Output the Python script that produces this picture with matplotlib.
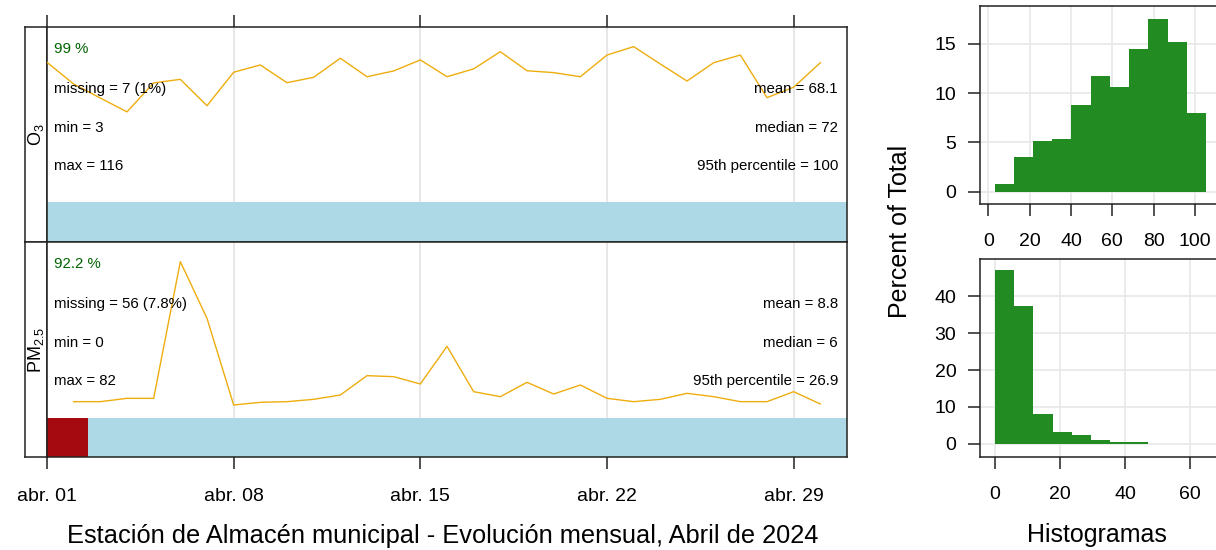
import numpy as np
import matplotlib
matplotlib.use("Agg")
import matplotlib.pyplot as plt
import matplotlib.dates as mdates

plt.rcParams['font.family'] = ['Liberation Sans', 'DejaVu Sans']
plt.rcParams['mathtext.fontset'] = 'custom'
plt.rcParams['mathtext.rm'] = 'Liberation Sans'
plt.rcParams['mathtext.it'] = 'Liberation Sans:italic'
plt.rcParams['mathtext.bf'] = 'Liberation Sans:bold'

# ---------------- data ----------------
days = np.arange('2024-04-01', '2024-05-01', dtype='datetime64[D]')
o3_daily = [74.7, 63.1, 55.6, 48.2, 63.7, 65.6, 51.5, 69.4, 73.3, 63.8,
            66.7, 76.9, 67.0, 70.1, 76.0, 67.0, 71.2, 80.4, 70.2, 69.2,
            67.0, 78.6, 83.1, 73.8, 64.7, 74.5, 78.6, 55.8, 61.4, 74.5]
pm25_daily = [np.nan, 4.9, 4.9, 5.9, 5.9, 46.9, 29.9, 3.9, 4.7, 4.9,
              5.6, 6.9, 12.7, 12.4, 10.2, 21.5, 7.9, 6.4, 10.7, 7.2,
              9.9, 5.9, 4.9, 5.6, 7.4, 6.4, 4.9, 4.9, 7.9, 4.2]

pollutants = ['O$_3$', 'PM$_{2.5}$']
pct_captured = ['99 %', '92.2 %']
missing_txt = ['missing = 7 (1%)', 'missing = 56 (7.8%)']
min_txt = ['min = 3', 'min = 0']
max_txt = ['max = 116', 'max = 82']
mean_txt = ['mean = 68.1', 'mean = 8.8']
median_txt = ['median = 72', 'median = 6']
p95_txt = ['95th percentile = 100', '95th percentile = 26.9']

# missing-data periods (start, end) per pollutant
missing_periods = [[], [(np.datetime64('2024-04-01T00:00'), np.datetime64('2024-04-02T13:00'))]]

tick_dates = np.array(['2024-04-01', '2024-04-08', '2024-04-15', '2024-04-22', '2024-04-29'],
                      dtype='datetime64[D]')
tick_labels = ['abr. 01', 'abr. 08', 'abr. 15', 'abr. 22', 'abr. 29']

o3_hist_edges = [3, 12.3, 21.6, 30.9, 40.2, 49.5, 58.8, 68.1, 77.4, 86.7, 96.0, 105.3]
o3_hist_pct = [0.75, 3.55, 5.18, 5.32, 8.8, 11.75, 10.6, 14.45, 17.53, 15.23, 7.96]
pm_hist_edges = [0, 5.9, 11.8, 17.7, 23.6, 29.5, 35.4, 41.3, 47.2]
pm_hist_pct = [47.05, 37.3, 8.15, 3.26, 2.44, 1.09, 0.54, 0.54]

title = 'Estación de Almacén municipal - Evolución mensual, Abril de 2024'

# ---------------- figure ----------------
W, H = 1216, 550
fig = plt.figure(figsize=(W / 100, H / 100), dpi=100)


def rect(x0, y0, x1, y1):
    return [x0 / W, 1 - y1 / H, (x1 - x0) / W, (y1 - y0) / H]


SPINE = '#222222'
LW = 1.1
TREND = '#EEAD0E'
DATACOL = '#ADD8E6'
MISCOL = '#A50A11'
GRID = '#E0E0E0'

panel_y = [(27, 242), (242, 457)]
ylims = [(-21.4, 93.6), (-11.7, 52.8)]
series = [o3_daily, pm25_daily]

xstart = np.datetime64('2024-04-01T00:00')
xend = np.datetime64('2024-05-01T00:00')

for i in range(2):
    y0, y1 = panel_y[i]
    # strip
    sax = fig.add_axes(rect(25, y0, 47, y1))
    sax.set_xticks([]); sax.set_yticks([])
    for sp in sax.spines.values():
        sp.set_color(SPINE); sp.set_linewidth(LW)
    sax.text(0.5, 0.5, pollutants[i], rotation=90, ha='center', va='center',
             fontsize=13, transform=sax.transAxes)

    ax = fig.add_axes(rect(47, y0, 847, y1))
    ax.set_xlim(xstart, xend)
    ax.set_ylim(*ylims[i])
    for sp in ax.spines.values():
        sp.set_color(SPINE); sp.set_linewidth(LW)
    ax.set_yticks([])
    for td in tick_dates:
        ax.axvline(td, color=GRID, lw=1.1, zorder=0)
    # data bar
    ymin = ylims[i][0]
    bar_start = mdates.date2num(xstart)
    bar_w = mdates.date2num(xend) - bar_start
    ax.broken_barh([(bar_start, bar_w)], (ymin, 0 - ymin), facecolors=DATACOL, zorder=1)
    for (ms, me) in missing_periods[i]:
        s = mdates.date2num(ms)
        ax.broken_barh([(s, mdates.date2num(me) - s)], (ymin, 0 - ymin),
                       facecolors=MISCOL, zorder=2)
    ax.plot(days, series[i], color=TREND, lw=1.0, zorder=3)

    ax.set_xticks(tick_dates)
    if i == 0:
        ax.tick_params(axis='x', which='both', top=True, bottom=False,
                       labeltop=False, labelbottom=False, direction='out',
                       length=8.6, width=LW, color=SPINE)
    else:
        ax.set_xticklabels(tick_labels)
        ax.tick_params(axis='x', which='both', top=False, bottom=True,
                       labelbottom=True, direction='out', length=8.6, width=LW,
                       color=SPINE, labelsize=14, pad=13.5)

    ph = y1 - y0
    fs = 10.8
    lx = 7 / 800
    rx = 1 - 9 / 800
    ax.text(lx, 1 - 22 / ph, pct_captured[i], color='darkgreen', fontsize=fs,
            ha='left', va='center', transform=ax.transAxes, zorder=5)
    ax.text(lx, 1 - 62 / ph, missing_txt[i], fontsize=fs, ha='left', va='center',
            transform=ax.transAxes, zorder=5)
    ax.text(lx, 1 - 101 / ph, min_txt[i], fontsize=fs, ha='left', va='center',
            transform=ax.transAxes, zorder=5)
    ax.text(lx, 1 - 139 / ph, max_txt[i], fontsize=fs, ha='left', va='center',
            transform=ax.transAxes, zorder=5)
    ax.text(rx, 1 - 62 / ph, mean_txt[i], fontsize=fs, ha='right', va='center',
            transform=ax.transAxes, zorder=5)
    ax.text(rx, 1 - 101 / ph, median_txt[i], fontsize=fs, ha='right', va='center',
            transform=ax.transAxes, zorder=5)
    ax.text(rx, 1 - 139 / ph, p95_txt[i], fontsize=fs, ha='right', va='center',
            transform=ax.transAxes, zorder=5)

fig.text(443 / W, 1 - 536 / H, title, ha='center', va='center', fontsize=18.25)

# ---------------- histograms ----------------
hist_specs = [
    dict(box=(980, 6, 1222, 204), xlim=(-4.02, 113.06), ylim=(-1.25, 18.85),
         edges=o3_hist_edges, pct=o3_hist_pct, xt=[0, 20, 40, 60, 80, 100], yt=[0, 5, 10, 15]),
    dict(box=(980, 259, 1222, 457), xlim=(-4.62, 69.85), ylim=(-3.6, 50.15),
         edges=pm_hist_edges, pct=pm_hist_pct, xt=[0, 20, 40, 60], yt=[0, 10, 20, 30, 40]),
]
for hs in hist_specs:
    hax = fig.add_axes(rect(*hs['box']))
    hax.set_xlim(*hs['xlim']); hax.set_ylim(*hs['ylim'])
    e = np.array(hs['edges'])
    hax.bar(e[:-1], hs['pct'], width=np.diff(e), align='edge', color='#228B22',
            linewidth=0, zorder=2)
    hax.set_xticks(hs['xt']); hax.set_yticks(hs['yt'])
    hax.grid(True, color='#E6E6E6', lw=1.1, zorder=0)
    hax.set_axisbelow(True)
    for sp in hax.spines.values():
        sp.set_color(SPINE); sp.set_linewidth(LW)
    hax.tick_params(axis='both', direction='out', length=8.6, width=LW, color=SPINE,
                    labelsize=14)
    hax.tick_params(axis='x', pad=12.5)
    hax.tick_params(axis='y', pad=8.5)

fig.text(900 / W, 1 - 231 / H, 'Percent of Total', rotation=90, ha='center',
         va='center', fontsize=18)
fig.text(1097 / W, 1 - 535 / H, 'Histogramas', ha='center', va='center', fontsize=18)

fig.savefig('out.png', dpi=100)
